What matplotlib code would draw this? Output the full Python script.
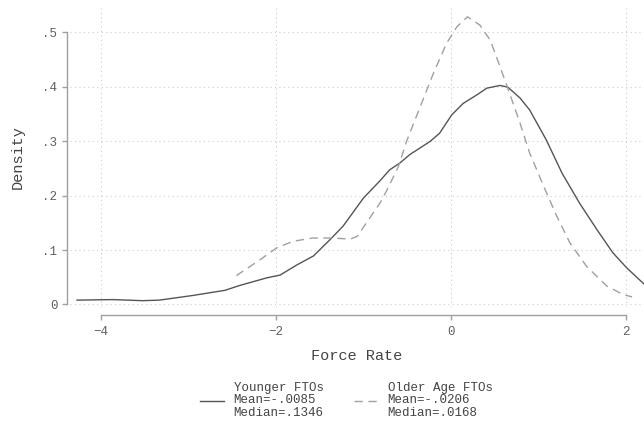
#!/usr/bin/env python3

"""
Kernel density of force rate, younger vs older FTOs (Stata-like look).
"""

import matplotlib
matplotlib.use("Agg")
import matplotlib.pyplot as plt

# Younger FTOs density curve
young_x = [-4.27, -3.86, -3.52, -3.33, -2.95, -2.58, -2.41, -2.10, -1.95, -1.76,
           -1.57, -1.38, -1.23, -1.00, -0.81, -0.70, -0.58, -0.47, -0.24, -0.13,
           0.01, 0.14, 0.30, 0.41, 0.56, 0.65, 0.79, 0.90, 1.09, 1.27,
           1.47, 1.67, 1.85, 2.01, 2.21]
young_d = [0.008, 0.009, 0.007, 0.008, 0.0165, 0.026, 0.035, 0.049, 0.054, 0.0725,
           0.089, 0.119, 0.144, 0.195, 0.227, 0.247, 0.260, 0.275, 0.299, 0.314,
           0.348, 0.369, 0.385, 0.397, 0.402, 0.399, 0.379, 0.357, 0.302, 0.241,
           0.186, 0.137, 0.095, 0.067, 0.037]

# Older Age FTOs density curve
old_x = [-2.45, -2.18, -1.99, -1.80, -1.58, -1.35, -1.15, -1.07, -0.93, -0.81,
         -0.73, -0.60, -0.50, -0.35, -0.20, -0.05, 0.07, 0.19, 0.33, 0.45,
         0.56, 0.67, 0.79, 0.90, 1.06, 1.21, 1.36, 1.55, 1.78, 1.97, 2.07]
old_d = [0.053, 0.082, 0.104, 0.116, 0.122, 0.122, 0.120, 0.125, 0.158, 0.186,
         0.210, 0.253, 0.302, 0.363, 0.424, 0.479, 0.510, 0.528, 0.513, 0.485,
         0.437, 0.388, 0.333, 0.278, 0.217, 0.162, 0.113, 0.070, 0.034, 0.018, 0.014]

young_label = "Younger FTOs\nMean=-.0085\nMedian=.1346"
old_label = "Older Age FTOs\nMean=-.0206\nMedian=.0168"

x_ticks = [-4, -2, 0, 2]
y_ticks = [0, 0.1, 0.2, 0.3, 0.4, 0.5]
y_tick_labels = ["0", ".1", ".2", ".3", ".4", ".5"]

MONO = "Liberation Mono"
AXIS_GRAY = "#a0a0a0"
TEXT_GRAY = "#606060"

fig = plt.figure(figsize=(6.44, 4.21), dpi=100)
ax = fig.add_axes([70 / 644, 114 / 421, 1 - 70 / 644, 300 / 421])

ax.plot(young_x, young_d, color="#555555", linewidth=1.0, label=young_label)
ax.plot(old_x, old_d, color="#a0a0a0", linewidth=1.0, dashes=(6, 4), label=old_label)

ax.set_xlim(-4.35, 2.206)
ax.set_ylim(-0.0046, 0.546)

ax.set_xticks(x_ticks)
ax.set_xticklabels([str(t).replace("-", "\u2212") for t in x_ticks])
ax.set_yticks(y_ticks)
ax.set_yticklabels(y_tick_labels)

# dotted grid, lines on ticks only
ax.grid(True, linestyle=(0, (1, 3)), color="#cccccc", linewidth=0.8)

# Stata-style detached axes
for side in ["top", "right"]:
    ax.spines[side].set_visible(False)
ax.spines["left"].set_position(("outward", 2.5))
ax.spines["left"].set_bounds(0, 0.5)
ax.spines["bottom"].set_position(("outward", 6))
ax.spines["bottom"].set_bounds(-4, 2)
for side in ["left", "bottom"]:
    ax.spines[side].set_color(AXIS_GRAY)
    ax.spines[side].set_linewidth(1.0)

ax.tick_params(axis="both", direction="out", length=3.5, width=1.0,
               color=AXIS_GRAY, labelcolor=TEXT_GRAY, labelsize=9)
ax.tick_params(axis="y", pad=3)
ax.tick_params(axis="x", pad=4)
for lbl in ax.get_xticklabels() + ax.get_yticklabels():
    lbl.set_family(MONO)

ax.set_xlabel("Force Rate", family=MONO, fontsize=11, color="#444444", labelpad=8)
ax.set_ylabel("Density", family=MONO, fontsize=11, color="#444444", labelpad=13)

leg = fig.legend(loc="upper left", bbox_to_anchor=(200 / 644, 1 - 382 / 421),
                 ncol=2, frameon=False, borderpad=0, borderaxespad=0,
                 handlelength=1.9, handletextpad=0.8, columnspacing=2.4,
                 prop={"family": MONO, "size": 9})
for txt in leg.get_texts():
    txt.set_color("#444444")
    txt.set_linespacing(1.05)

fig.savefig("out.png", dpi=100)
